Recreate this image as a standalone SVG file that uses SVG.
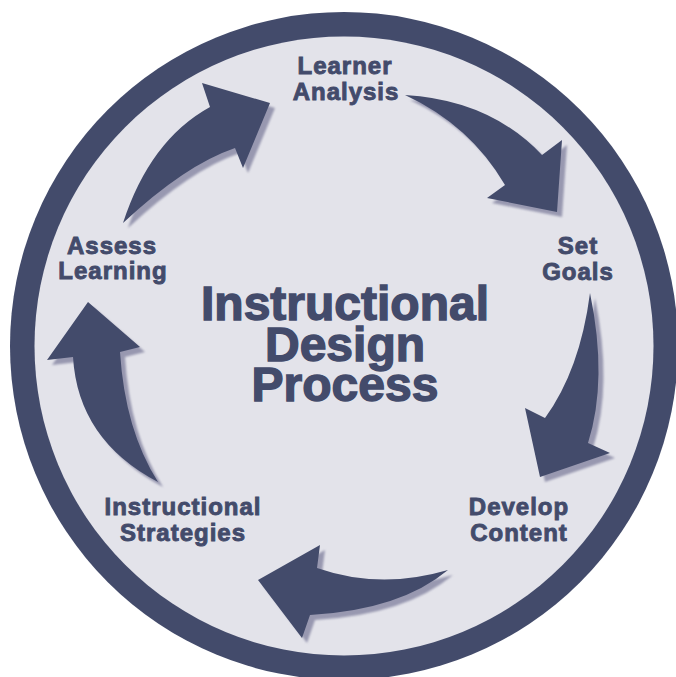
<svg xmlns="http://www.w3.org/2000/svg" width="676" height="677" viewBox="0 0 676 677">
  <defs>
    <style>
      .lbl { font-family: "Liberation Sans", Arial, sans-serif; font-weight: bold; font-size: 24px; letter-spacing: 1px; fill: #434b6b; stroke: #434b6b; stroke-width: 0.9px; text-anchor: middle; }
      .title { font-family: "Liberation Sans", Arial, sans-serif; font-weight: bold; font-size: 48px; fill: #434b6b; stroke: #434b6b; stroke-width: 1.4px; text-anchor: middle; }
      .arrow { fill: #434b6b; }
      .shadow { fill: #9898b0; }
    </style>
    <filter id="soft" x="-10%" y="-10%" width="120%" height="120%">
      <feGaussianBlur stdDeviation="0.8"/>
    </filter>
  </defs>

  <rect x="0" y="0" width="676" height="677" fill="#ffffff"/>
  <g id="ring">
    <circle cx="344" cy="346" r="334" fill="#434b6b"/>
    <circle cx="344" cy="346" r="309.5" fill="#e3e3ea"/>
  </g>

  <g id="connectors">
    <g id="shadows" transform="translate(5,5)" filter="url(#soft)">
      <path class="shadow" d="M123,223 Q150,140 210,107 L202,83 L270,103 L243,168 L235,148 Q185,165 123,223 Z"/>
      <path class="shadow" d="M405,95 Q490,100 542,155 L562,140 L557,212 L487,198 L505,185 Q470,125 405,95 Z"/>
      <path class="shadow" d="M590,293 Q608,380 588,443 L610,453 L540,477 L525,408 L545,418 Q580,370 590,293 Z"/>
      <path class="shadow" d="M448,570 Q380,590 317,568 L320,545 L258,580 L302,638 L310,615 Q400,610 448,570 Z"/>
      <path class="shadow" d="M158,482 Q125,430 120,352 L140,347 L88,302 L47,360 L73,357 Q78,440 158,482 Z"/>
    </g>
    <path id="arrow-assess-learner" class="arrow" d="M123,223 Q150,140 210,107 L202,83 L270,103 L243,168 L235,148 Q185,165 123,223 Z"/>
    <path id="arrow-learner-goals" class="arrow" d="M405,95 Q490,100 542,155 L562,140 L557,212 L487,198 L505,185 Q470,125 405,95 Z"/>
    <path id="arrow-goals-content" class="arrow" d="M590,293 Q608,380 588,443 L610,453 L540,477 L525,408 L545,418 Q580,370 590,293 Z"/>
    <path id="arrow-content-strategies" class="arrow" d="M448,570 Q380,590 317,568 L320,545 L258,580 L302,638 L310,615 Q400,610 448,570 Z"/>
    <path id="arrow-strategies-assess" class="arrow" d="M158,482 Q125,430 120,352 L140,347 L88,302 L47,360 L73,357 Q78,440 158,482 Z"/>
  </g>

  <g id="title">
    <text class="title" x="345" y="320">Instructional</text>
    <text class="title" x="345" y="361">Design</text>
    <text class="title" x="345" y="401">Process</text>
  </g>

  <g id="learner-analysis">
    <text class="lbl" x="345" y="74">Learner</text>
    <text class="lbl" x="346" y="100">Analysis</text>
  </g>
  <g id="set-goals">
    <text class="lbl" x="578" y="254">Set</text>
    <text class="lbl" x="578" y="280">Goals</text>
  </g>
  <g id="develop-content">
    <text class="lbl" x="519" y="515">Develop</text>
    <text class="lbl" x="519" y="541">Content</text>
  </g>
  <g id="instructional-strategies">
    <text class="lbl" x="183" y="515">Instructional</text>
    <text class="lbl" x="183" y="541">Strategies</text>
  </g>
  <g id="assess-learning">
    <text class="lbl" x="112" y="254">Assess</text>
    <text class="lbl" x="113" y="279">Learning</text>
  </g>
</svg>
